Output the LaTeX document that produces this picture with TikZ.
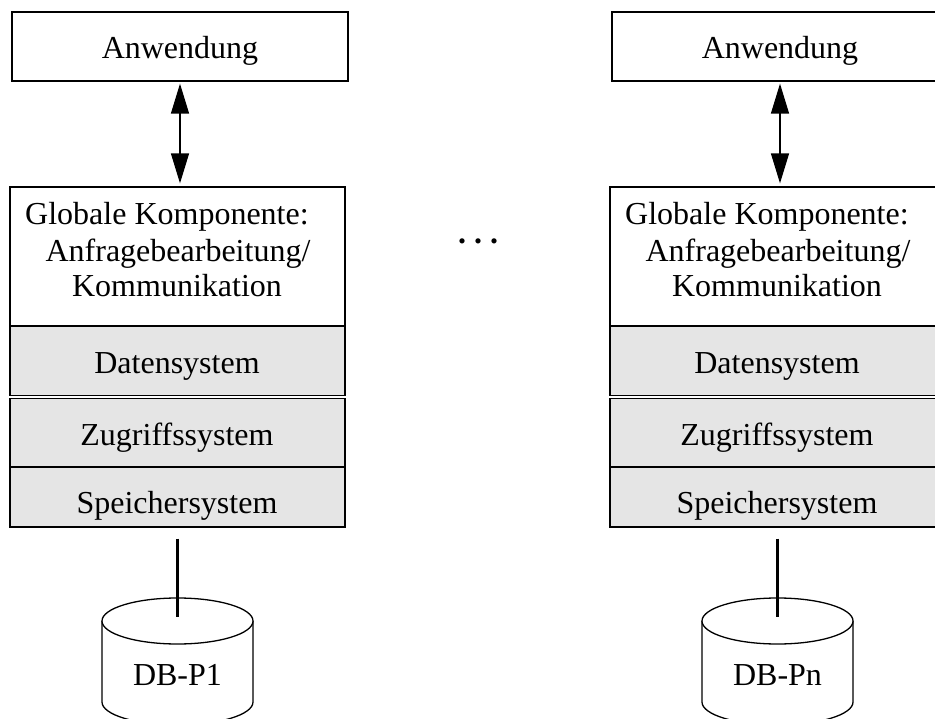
\documentclass[tikz,border=0pt]{standalone}
\usepackage{fontspec}
\setmainfont{Liberation Serif}
\usetikzlibrary{arrows.meta}

\definecolor{layergray}{RGB}{229,229,229}

\tikzset{
  box/.style={draw, line width=1.3pt, inner sep=0pt, fill=white},
  layer/.style={box, fill=layergray},
  lbl/.style={font=\fontsize{32}{36}\selectfont, anchor=base, inner sep=0pt},
  link/.style={line width=1.4pt,
    {Triangle[length=30pt,width=18pt]}-{Triangle[length=30pt,width=18pt]},
    shorten <=2pt, shorten >=3pt},
  wire/.style={line width=3pt},
  drum/.style={line width=1.3pt}
}

\begin{document}
\begin{tikzpicture}[x=1pt,y=-1pt]
\useasboundingbox (0,0) rectangle (935,719);
\clip (0,0) rectangle (935,719);

% one stack per node of the parallel database
\foreach \sx/\id/\db in {0/a/DB-P1, 600/b/DB-Pn} {
  \begin{scope}[xshift=\sx]
    % application on top
    \node[box, minimum width=336pt, minimum height=69pt] (app\id) at (180,46.5) {};
    \node[lbl] (apptxt\id) at (180,59) {Anwendung};

    % layered DBMS
    \node[box, minimum width=335pt, minimum height=139pt] (glob\id) at (177.5,256.5) {};
    \node[lbl, anchor=base west] (globtxt\id) at (25,225) {Globale Komponente:};
    \node[lbl] (anftxt\id) at (178,262) {Anfragebearbeitung/};
    \node[lbl] (komtxt\id) at (177,297) {Kommunikation};

    \node[layer, minimum width=335pt, minimum height=69.8pt] (dat\id) at (177.5,360.9) {};
    \node[lbl] (dattxt\id) at (177,374) {Datensystem};

    \node[layer, minimum width=335pt, minimum height=68.2pt] (zug\id) at (177.5,432.9) {};
    \node[lbl] (zugtxt\id) at (177,445) {Zugriffssystem};

    \node[layer, minimum width=335pt, minimum height=60pt] (spe\id) at (177.5,497) {};
    \node[lbl] (spetxt\id) at (177,513) {Speichersystem};

    % application <-> global component
    \draw[link] (app\id.south) -- (app\id.south |- glob\id.north);

    % disk
    \draw[drum, fill=white] (102,621) -- (102,702)
      arc[start angle=180, end angle=0, x radius=75.5, y radius=23] -- (253,621);
    \draw[drum, fill=white] (177.5,621) ellipse[x radius=75.5, y radius=23];
    \coordinate (dbtop\id) at (177,617);
    \node[lbl] (dbtxt\id) at (177.5,685) {\db};

    % storage system -> disk
    \draw[wire] (spe\id.south -| dbtop\id) ++(0,11) -- (dbtop\id);
  \end{scope}
}

\node[lbl, font=\fontsize{32}{36}\selectfont\bfseries] (dots) at (478,244) {.\ .\ .};
\end{tikzpicture}
\end{document}
